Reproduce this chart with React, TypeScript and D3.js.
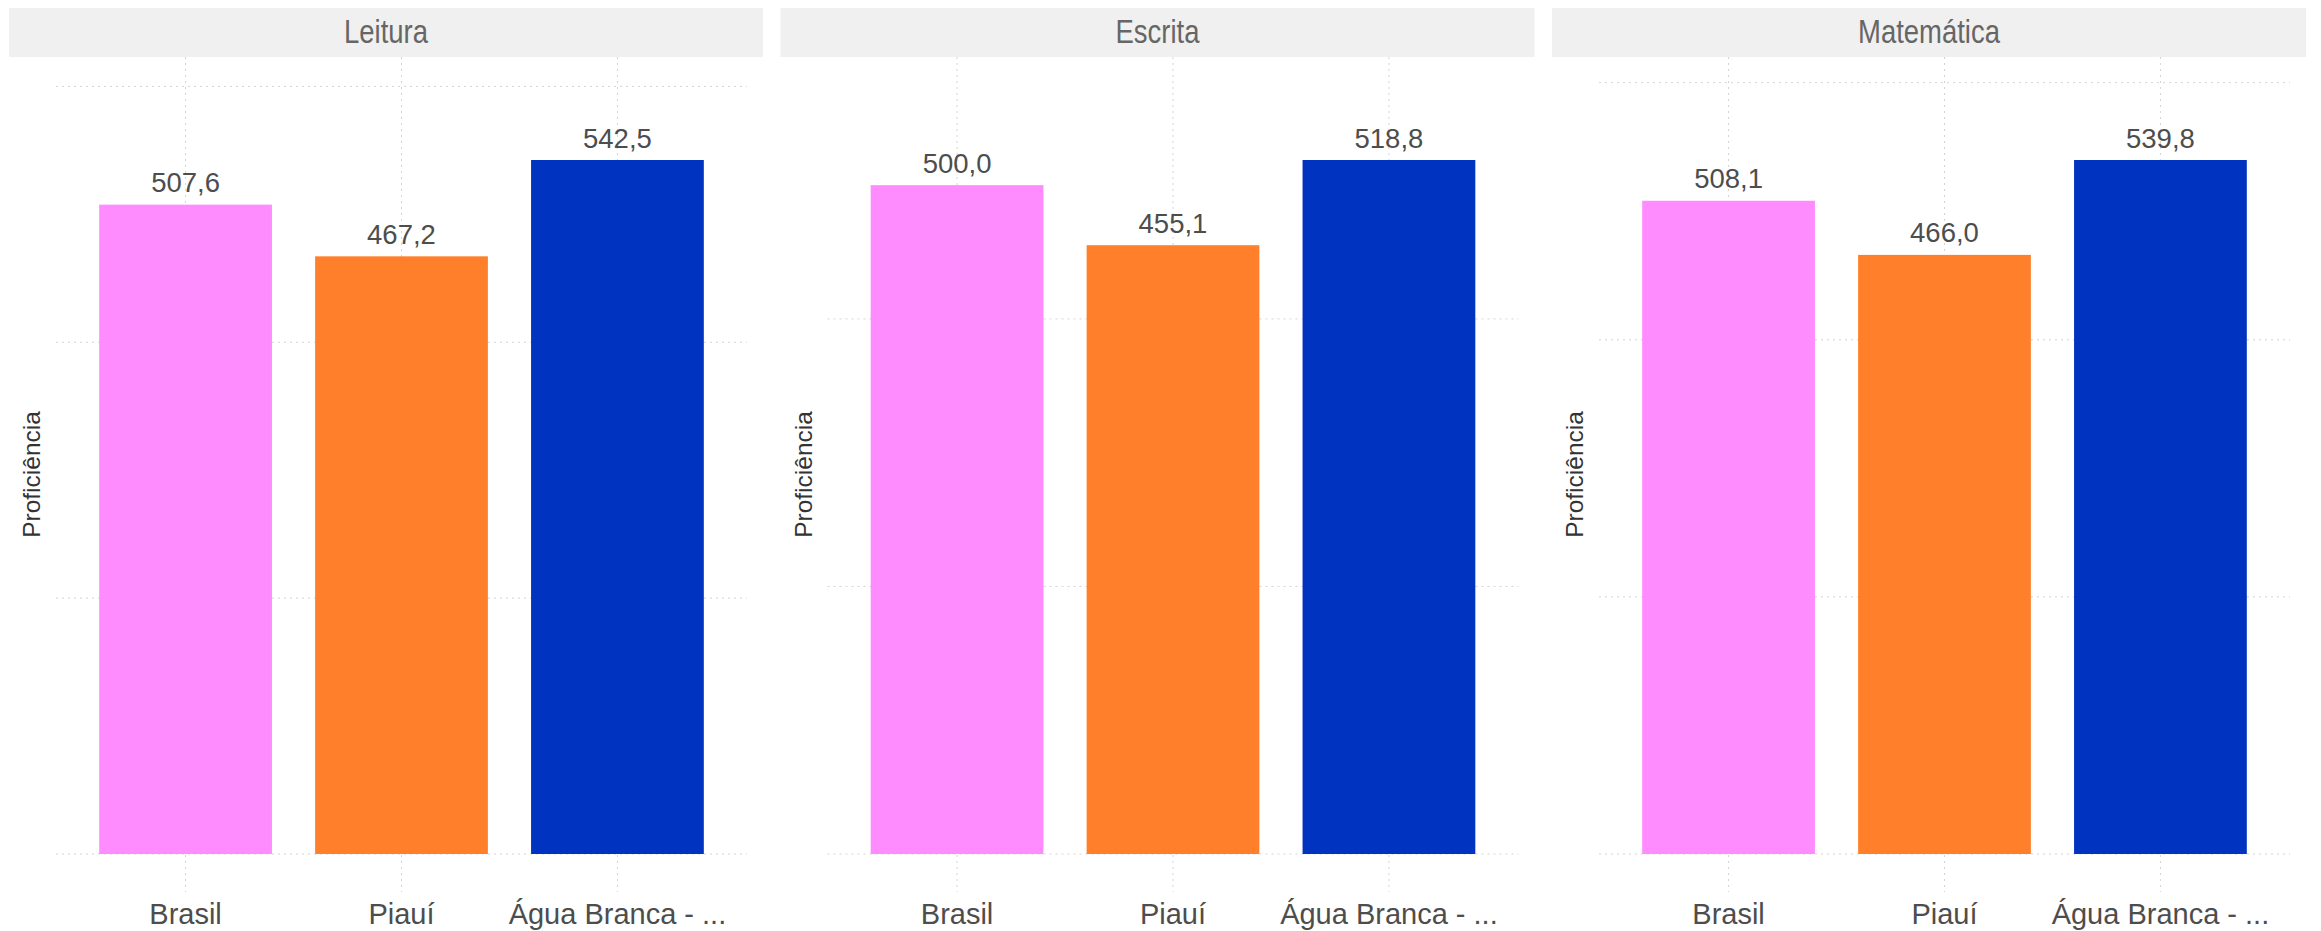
import React from "react";
import * as d3 from "d3";

const subjects = ["Leitura", "Escrita", "Matemática"];
const categories = ["Brasil", "Piauí", "Água Branca - ..."];
const leitura = [507.6, 467.2, 542.5];
const escrita = [500.0, 455.1, 518.8];
const matematica = [508.1, 466.0, 539.8];
const yTicks = [0, 200, 400, 600];
const barColors = ["#FF8CFF", "#FF7F2A", "#0033BF"];
const yTitle = "Proficiência";

const W = 2321;
const H = 931;
const blockOffsets = [0, 771.5, 1543];

const fmt = (v: number) => d3.format(".1f")(v).replace(".", ",");

function Panel({ title, values, off }: { title: string; values: number[]; off: number }) {
  const panelTop = 57;
  const panelBottom = 892;
  const left = off + 56;
  const right = off + 747;
  const x = d3.scaleBand<string>().domain(categories).range([left, right]).paddingInner(0.2).paddingOuter(0.2);
  const maxV = d3.max(values) as number;
  const y = d3.scaleLinear().domain([0, maxV]).range([854, 160]);
  const grid = "#d4d4d4";
  return (
    <g>
      <rect x={off + 9} y={8} width={754} height={49} fill="#F0F0F0" />
      <text
        transform={`translate(${off + 386},43) scale(0.82,1)`}
        textAnchor="middle"
        fontFamily="'Liberation Sans', Arial, sans-serif"
        fontSize={33.5}
        fill="#666666"
      >
        {title}
      </text>
      {yTicks
        .filter((t) => y(t) >= panelTop && y(t) <= panelBottom)
        .map((t) => (
          <line key={t} x1={left} x2={right} y1={y(t)} y2={y(t)} stroke={grid} strokeWidth={1} strokeDasharray="2,4" />
        ))}
      {categories.map((c) => (
        <line
          key={c}
          x1={(x(c) as number) + x.bandwidth() / 2}
          x2={(x(c) as number) + x.bandwidth() / 2}
          y1={panelTop}
          y2={panelBottom}
          stroke={grid}
          strokeWidth={1}
          strokeDasharray="2,4"
        />
      ))}
      {categories.map((c, i) => (
        <rect
          key={c}
          x={x(c) as number}
          y={y(values[i])}
          width={x.bandwidth()}
          height={y(0) - y(values[i])}
          fill={barColors[i]}
        />
      ))}
      {categories.map((c, i) => (
        <text
          key={c}
          x={(x(c) as number) + x.bandwidth() / 2}
          y={y(values[i]) - 12.5}
          textAnchor="middle"
          fontFamily="'Liberation Sans', Arial, sans-serif"
          fontSize={27.5}
          fill="#4d4d4d"
        >
          {fmt(values[i])}
        </text>
      ))}
      {categories.map((c) => (
        <text
          key={c}
          x={(x(c) as number) + x.bandwidth() / 2}
          y={924}
          textAnchor="middle"
          fontFamily="'Liberation Sans', Arial, sans-serif"
          fontSize={29}
          fill="#4d4d4d"
        >
          {c}
        </text>
      ))}
      <text
        transform={`translate(${off + 40},${(panelTop + panelBottom) / 2}) rotate(-90)`}
        textAnchor="middle"
        fontFamily="'Liberation Sans', Arial, sans-serif"
        fontSize={24.5}
        fill="#333333"
      >
        {yTitle}
      </text>
    </g>
  );
}

export default function App() {
  const series = [leitura, escrita, matematica];
  return (
    <div style={{ position: "absolute", left: 0, top: 0 }}>
      <svg width={W} height={H} viewBox={`0 0 ${W} ${H}`} style={{ display: "block", background: "#ffffff" }}>
        <rect x={0} y={0} width={W} height={H} fill="#ffffff" />
        {subjects.map((s, i) => (
          <Panel key={s} title={s} values={series[i]} off={blockOffsets[i]} />
        ))}
      </svg>
    </div>
  );
}
